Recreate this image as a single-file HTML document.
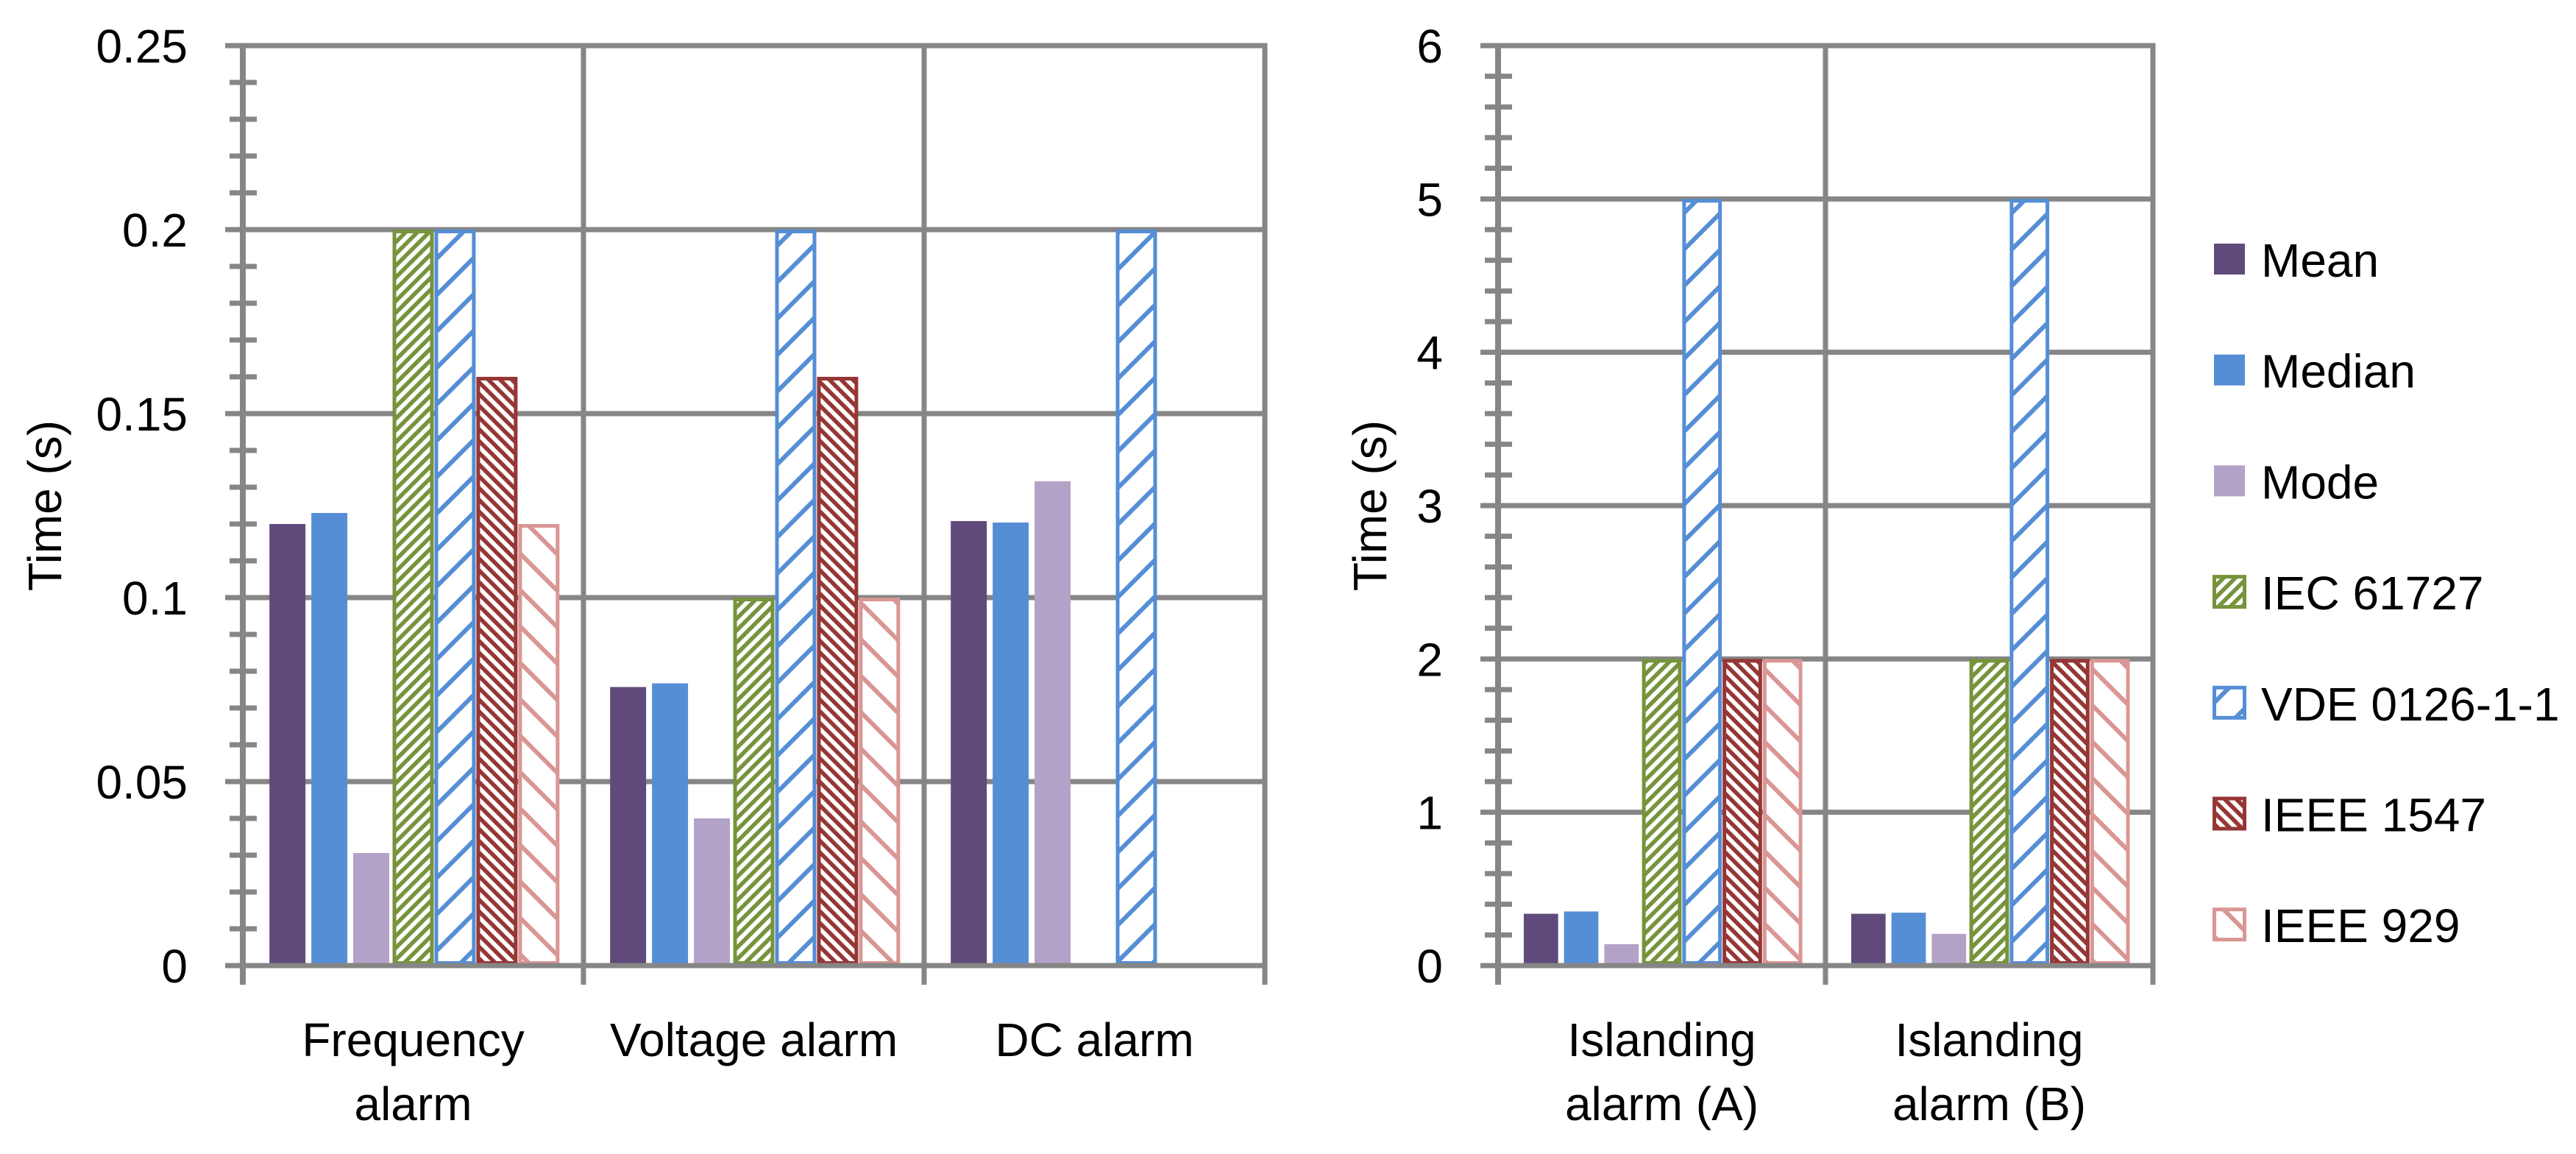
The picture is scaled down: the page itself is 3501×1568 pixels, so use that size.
<!DOCTYPE html>
<html><head><meta charset="utf-8"><style>
html,body{margin:0;padding:0;background:#fff;}
svg{display:block;}
text{font-family:"Liberation Sans",sans-serif;fill:#000;}
</style></head><body>
<svg id="chart" width="3501" height="1568" viewBox="0 0 3501 1568" xmlns="http://www.w3.org/2000/svg">
<defs>
<pattern id="p-iec" patternUnits="userSpaceOnUse" width="11.3" height="11.3" patternTransform="rotate(45)"><rect width="11.3" height="11.3" fill="#fff"/><rect width="5.6" height="11.3" fill="#77933C"/></pattern>
<pattern id="p-vde" patternUnits="userSpaceOnUse" width="35" height="35" patternTransform="rotate(45)"><rect width="35" height="35" fill="#fff"/><rect width="6" height="35" fill="#558ED5"/></pattern>
<pattern id="p-1547" patternUnits="userSpaceOnUse" width="11.3" height="11.3" patternTransform="rotate(-45)"><rect width="11.3" height="11.3" fill="#fff"/><rect width="5.6" height="11.3" fill="#953735"/></pattern>
<pattern id="p-929" patternUnits="userSpaceOnUse" width="35" height="35" patternTransform="rotate(-45)"><rect width="35" height="35" fill="#fff"/><rect width="6" height="35" fill="#D99694"/></pattern>
</defs>
<g id="left"></g>
<g id="right"></g>
<g id="legend"></g>
</svg>
<script>
const seriesNames = ["Mean","Median","Mode","IEC 61727","VDE 0126-1-1","IEEE 1547","IEEE 929"];
const leftCategories = [["Frequency","alarm"],["Voltage alarm"],["DC alarm"]];
const leftMean   = [0.120, 0.0757, 0.1208];
const leftMedian = [0.123, 0.0767, 0.1204];
const leftMode   = [0.0306, 0.040, 0.1316];
const leftIEC    = [0.2, 0.1, 0];
const leftVDE    = [0.2, 0.2, 0.2];
const left1547   = [0.16, 0.16, 0];
const left929    = [0.12, 0.1, 0];
const leftTicks  = ["0","0.05","0.1","0.15","0.2","0.25"];
const rightCategories = [["Islanding","alarm (A)"],["Islanding","alarm (B)"]];
const rightMean   = [0.338, 0.338];
const rightMedian = [0.353, 0.345];
const rightMode   = [0.14, 0.207];
const rightIEC    = [2, 2];
const rightVDE    = [5, 5];
const right1547   = [2, 2];
const right929    = [2, 2];
const rightTicks  = ["0","1","2","3","4","5","6"];

const NS="http://www.w3.org/2000/svg";
const fills=["#604A7B","#558ED5","#B3A2C7","url(#p-iec)","url(#p-vde)","url(#p-1547)","url(#p-929)"];
const strokes=[null,null,null,"#77933C","#558ED5","#953735","#D99694"];
const GRID="#868686";
function mk(parent,tag,attrs){const e=document.createElementNS(NS,tag);for(const k in attrs)e.setAttribute(k,attrs[k]);parent.appendChild(e);return e;}

function drawChart(g,opt){
  const {x0,x1,top,bot,max,ticks,minorPer,cats,series,titleX,prefix}=opt;
  const y=v=>bot-(v/max)*(bot-top);
  const W=(x1-x0)/cats.length;
  // horizontal gridlines + tick labels
  ticks.forEach((t,i)=>{
    const v=max*i/(ticks.length-1), yy=y(v);
    const ln=mk(g,"line",{x1:x0-24,x2:x1,y1:yy,y2:yy,stroke:GRID,"stroke-width":7});
    
    
    const tx=mk(g,"text",{x:x0-75,y:yy+23,"text-anchor":"end","font-size":64});
    tx.textContent=t;
    
    
    if(i<ticks.length-1){
      for(let m=1;m<minorPer;m++){
        const ym=y(v+(max/(ticks.length-1))*m/minorPer);
        const mt=mk(g,"line",{x1:x0-18,x2:x0+19,y1:ym,y2:ym,stroke:GRID,"stroke-width":7});
        
        
      }
    }
  });
  // vertical lines
  for(let c=0;c<=cats.length;c++){
    const xx=x0+c*W;
    const vl=mk(g,"line",{x1:xx,x2:xx,y1:top-3.5,y2:bot+26,stroke:GRID,"stroke-width":c==0?8:7});
    
    
  }
  // bars
  const p=W/8.13, off=(W-7*p)/2;
  cats.forEach((cat,ci)=>{
    series.forEach((arr,si)=>{
      const v=arr[ci]; if(!v) return;
      const bx=x0+ci*W+off+si*p, yt=y(v);
      let r;
      if(strokes[si]){
        r=mk(g,"rect",{x:bx+3,y:yt+2.5,width:p-6,height:bot-3.5-yt-2.5,fill:fills[si],stroke:strokes[si],"stroke-width":5});
      } else {
        r=mk(g,"rect",{x:bx+4,y:yt,width:p-8,height:bot-3.5-yt,fill:fills[si]});
      }
      
      
    });
    // category labels
    const cx=x0+ci*W+W/2;
    cat.forEach((line,li)=>{
      const t=mk(g,"text",{x:cx,y:1435+li*87,"text-anchor":"middle","font-size":64});
      t.textContent=line;
      
      
    });
  });
  // baseline drawn on top
  const bl=mk(g,"line",{x1:x0-24,x2:x1,y1:bot,y2:bot,stroke:GRID,"stroke-width":7});
  
  
  const tt=mk(g,"text",{x:titleX,y:(top+bot)/2,"text-anchor":"middle","font-size":64,transform:`rotate(-90 ${titleX} ${(top+bot)/2}) translate(0 22)`});
  tt.textContent="Time (s)";
  
  
}

drawChart(document.getElementById('left'),{x0:330,x1:1719,top:62,bot:1312,max:0.25,ticks:leftTicks,minorPer:5,cats:leftCategories,
  series:[leftMean,leftMedian,leftMode,leftIEC,leftVDE,left1547,left929],titleX:61,prefix:'left'});
drawChart(document.getElementById('right'),{x0:2036,x1:2926,top:62,bot:1312,max:6,ticks:rightTicks,minorPer:5,cats:rightCategories,
  series:[rightMean,rightMedian,rightMode,rightIEC,rightVDE,right1547,right929],titleX:1862,prefix:'right'});

const lg=document.getElementById('legend');
seriesNames.forEach((n,i)=>{
  const cy=352+i*150.7;
  const item=mk(lg,"g",{});
  
  
  if(strokes[i]) mk(item,"rect",{x:3009.5,y:cy-20.5,width:41,height:41,fill:fills[i],stroke:strokes[i],"stroke-width":5});
  else mk(item,"rect",{x:3009,y:cy-21,width:42,height:42,fill:fills[i]});
  const t=mk(item,"text",{x:3073,y:cy+24,"font-size":64});
  t.textContent=n;
});
</script>
</body></html>
